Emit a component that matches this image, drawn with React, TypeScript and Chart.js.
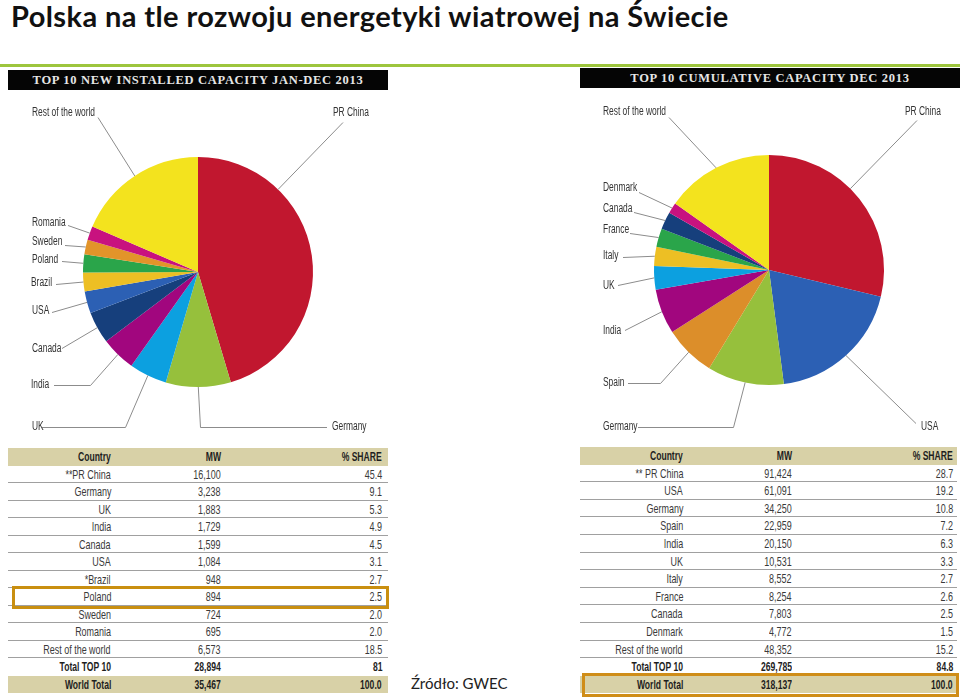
import React, { useEffect, useRef } from 'react';
import { Chart, registerables } from 'chart.js';
Chart.register(...registerables);

// ---------- DATA ----------
const newCountries = ['PR China', 'Germany', 'UK', 'India', 'Canada', 'USA', 'Brazil', 'Poland', 'Sweden', 'Romania', 'Rest of the world'];
const newTableCountries = ['**PR China', 'Germany', 'UK', 'India', 'Canada', 'USA', '*Brazil', 'Poland', 'Sweden', 'Romania', 'Rest of the world'];
const newMW = [16100, 3238, 1883, 1729, 1599, 1084, 948, 894, 724, 695, 6573];
const newShare = ['45.4', '9.1', '5.3', '4.9', '4.5', '3.1', '2.7', '2.5', '2.0', '2.0', '18.5'];
const newTotalRows = ['Total TOP 10', 'World Total'];
const newTotalMW = [28894, 35467];
const newTotalShare = ['81', '100.0'];
const newColors = ['#c1172f', '#96c03c', '#0ca0e0', '#a1067e', '#163f7c', '#2c60b4', '#edbf24', '#2aa54a', '#e2942a', '#c8127f', '#f3e31e'];

const cumCountries = ['PR China', 'USA', 'Germany', 'Spain', 'India', 'UK', 'Italy', 'France', 'Canada', 'Denmark', 'Rest of the world'];
const cumTableCountries = ['** PR China', 'USA', 'Germany', 'Spain', 'India', 'UK', 'Italy', 'France', 'Canada', 'Denmark', 'Rest of the world'];
const cumMW = [91424, 61091, 34250, 22959, 20150, 10531, 8552, 8254, 7803, 4772, 48352];
const cumShare = ['28.7', '19.2', '10.8', '7.2', '6.3', '3.3', '2.7', '2.6', '2.5', '1.5', '15.2'];
const cumTotalRows = ['Total TOP 10', 'World Total'];
const cumTotalMW = [269785, 318137];
const cumTotalShare = ['84.8', '100.0'];
const cumColors = ['#c1172f', '#2c60b4', '#96c03c', '#dc8e2a', '#a1067e', '#0ca0e0', '#edbf24', '#2aa54a', '#163f7c', '#c8127f', '#f3e31e'];

const tableHeader = ['Country', 'MW', '% SHARE'];

// label layout (offsets from pie centre): text pos, line start, optional elbow, position along slice
type LabelLayout = { tx: number; ty: number; sx: number; sy: number; elbow?: [number, number]; frac?: number };
const newLabelLayout: LabelLayout[] = [
  { tx: 135, ty: -159, sx: 145, sy: -150, frac: 0.27 },
  { tx: 134, ty: 155, sx: 129, sy: 155, elbow: [2, 155] },
  { tx: -166, ty: 155, sx: -156, sy: 155, elbow: [-73, 155] },
  { tx: -167, ty: 113, sx: -144, sy: 113, elbow: [-108, 113] },
  { tx: -166, ty: 77, sx: -136, sy: 76 },
  { tx: -166, ty: 39, sx: -146, sy: 40 },
  { tx: -167, ty: 11, sx: -142, sy: 12 },
  { tx: -166, ty: -12, sx: -136, sy: -11 },
  { tx: -166, ty: -30, sx: -133, sy: -27 },
  { tx: -166, ty: -49, sx: -130, sy: -47 },
  { tx: -166, ty: -159, sx: -100, sy: -155 },
];
const cumLabelLayout: LabelLayout[] = [
  { tx: 136, ty: -158, sx: 148, sy: -150, frac: 0.435 },
  { tx: 152, ty: 157, sx: 147, sy: 153 },
  { tx: -166, ty: 157, sx: -131, sy: 157, elbow: [-36, 157] },
  { tx: -166, ty: 113, sx: -141, sy: 113, elbow: [-109, 113] },
  { tx: -166, ty: 61, sx: -144, sy: 60 },
  { tx: -166, ty: 16, sx: -151, sy: 15 },
  { tx: -166, ty: -14, sx: -146, sy: -13 },
  { tx: -166, ty: -40, sx: -139, sy: -37 },
  { tx: -166, ty: -61, sx: -135, sy: -58 },
  { tx: -166, ty: -82, sx: -130, sy: -78 },
  { tx: -166, ty: -158, sx: -100, sy: -153 },
];

const NARROW = '"Liberation Sans Narrow", "Arial Narrow", sans-serif';

function makeLeaderPlugin(layout: LabelLayout[]) {
  return {
    id: 'leaderLabels',
    afterDraw(chart: any) {
      const ctx = chart.ctx as CanvasRenderingContext2D;
      const meta = chart.getDatasetMeta(0);
      const labels = chart.data.labels as string[];
      ctx.save();
      ctx.font = '12px ' + NARROW;
      ctx.fillStyle = '#333';
      ctx.strokeStyle = '#8c8c8c';
      ctx.lineWidth = 1;
      ctx.textBaseline = 'middle';
      layout.forEach((it, i) => {
        const arc = meta.data[i];
        if (!arc) return;
        const p = arc.getProps(['x', 'y', 'startAngle', 'endAngle', 'outerRadius'], true);
        const f = it.frac ?? 0.5;
        const a = p.startAngle + f * (p.endAngle - p.startAngle);
        const ex = p.x + Math.cos(a) * p.outerRadius;
        const ey = p.y + Math.sin(a) * p.outerRadius;
        ctx.beginPath();
        ctx.moveTo(p.x + it.sx, p.y + it.sy + 0.5);
        if (it.elbow) ctx.lineTo(p.x + it.elbow[0] + 0.5, p.y + it.elbow[1] + 0.5);
        ctx.lineTo(ex, ey);
        ctx.stroke();
        ctx.save();
        ctx.translate(p.x + it.tx, p.y + it.ty);
        ctx.scale(0.7, 1);
        ctx.fillText(labels[i], 0, 0);
        ctx.restore();
      });
      ctx.restore();
    },
  };
}

function PieCanvas(props: {
  labels: string[];
  values: number[];
  colors: string[];
  layout: LabelLayout[];
  padding: { left: number; right: number; top: number; bottom: number };
  style: React.CSSProperties;
}) {
  const ref = useRef<HTMLCanvasElement>(null);
  useEffect(() => {
    if (!ref.current) return;
    const chart = new Chart(ref.current, {
      type: 'pie',
      data: {
        labels: props.labels,
        datasets: [{ data: props.values, backgroundColor: props.colors, borderWidth: 0 }],
      },
      options: {
        animation: false,
        responsive: false,
        maintainAspectRatio: false,
        layout: { padding: props.padding },
        plugins: { legend: { display: false }, tooltip: { enabled: false } },
      },
      plugins: [makeLeaderPlugin(props.layout)],
    });
    return () => chart.destroy();
  }, []);
  return <canvas ref={ref} width={480} height={345} style={{ position: 'absolute', ...props.style }} />;
}

function DataTable(props: {
  left: number;
  top: number;
  width: number;
  rowH: number;
  cols: number[];
  padRight: number;
  countries: string[];
  mw: number[];
  share: string[];
  totals: string[];
  totalMW: number[];
  totalShare: string[];
}) {
  const { left, top, width, rowH, cols, padRight } = props;
  const rows: { c: string[]; kind: string }[] = [];
  rows.push({ c: tableHeader, kind: 'head' });
  props.countries.forEach((c, i) => rows.push({ c: [c, props.mw[i].toLocaleString('en-US'), props.share[i]], kind: 'data' }));
  rows.push({ c: [props.totals[0], props.totalMW[0].toLocaleString('en-US'), props.totalShare[0]], kind: 'total' });
  rows.push({ c: [props.totals[1], props.totalMW[1].toLocaleString('en-US'), props.totalShare[1]], kind: 'world' });
  return (
    <div style={{ position: 'absolute', left, top, width }}>
      {rows.map((r, i) => {
        const beige = r.kind === 'head' || r.kind === 'world';
        const bold = r.kind !== 'data';
        return (
          <div
            key={i}
            style={{
              position: 'absolute',
              left: 0,
              top: i * rowH,
              width,
              height: rowH,
              boxSizing: 'border-box',
              paddingRight: padRight,
              background: beige ? '#d8d1a7' : 'transparent',
              borderBottom: r.kind === 'data' ? '1px solid #a0a0a0' : 'none',
              display: 'grid',
              gridTemplateColumns: cols.map((c) => c + 'px').join(' '),
              fontFamily: NARROW,
              fontSize: 13,
              fontWeight: bold ? 700 : 400,
              color: bold ? '#1e1e1e' : '#3a3a3a',
              lineHeight: rowH + 'px',
            }}
          >
            {r.c.map((t, j) => (
              <div key={j} style={{ textAlign: 'right', whiteSpace: 'nowrap' }}>
                <span
                  style={{
                    display: 'inline-block',
                    transform: `scaleX(${bold ? 0.66 : 0.69})`,
                    transformOrigin: 'right center',
                  }}
                >
                  {t}
                </span>
              </div>
            ))}
          </div>
        );
      })}
    </div>
  );
}

export default function App() {
  const barText: React.CSSProperties = {
    position: 'absolute',
    background: '#050505',
    color: '#e6e6e6',
    fontFamily: '"Liberation Serif", "DejaVu Serif", serif',
    fontWeight: 700,
    fontSize: 12.5,
    letterSpacing: 0.7,
    textAlign: 'center',
    height: 20,
    lineHeight: '21px',
    whiteSpace: 'nowrap',
  };
  return (
    <div style={{ position: 'absolute', left: 0, top: 0, width: 960, height: 697, background: '#fff', overflow: 'hidden' }}>
      <div
        style={{
          position: 'absolute',
          left: 11,
          top: -2,
          fontFamily: 'Lato, "Open Sans", sans-serif',
          fontWeight: 700,
          fontSize: 29,
          letterSpacing: 0.4,
          lineHeight: '36px',
          color: '#111',
          whiteSpace: 'nowrap',
        }}
      >
        Polska na tle rozwoju energetyki wiatrowej na Świecie
      </div>
      <div style={{ position: 'absolute', left: 0, top: 64, width: 960, height: 3, background: '#9dc53d' }} />
      <div style={{ ...barText, left: 8, top: 70, width: 380 }}>TOP 10 NEW INSTALLED CAPACITY JAN-DEC 2013</div>
      <div style={{ ...barText, left: 580, top: 68, width: 380 }}>TOP 10 CUMULATIVE CAPACITY DEC 2013</div>

      <PieCanvas
        labels={newCountries}
        values={newMW}
        colors={newColors}
        layout={newLabelLayout}
        padding={{ left: 83, right: 167, top: 62, bottom: 53 }}
        style={{ left: 0, top: 95 }}
      />
      <PieCanvas
        labels={cumCountries}
        values={cumMW}
        colors={cumColors}
        layout={cumLabelLayout}
        padding={{ left: 174, right: 76, top: 60, bottom: 55 }}
        style={{ left: 480, top: 95 }}
      />

      <DataTable
        left={8}
        top={448}
        width={380}
        rowH={17.5}
        cols={[103, 110, 161]}
        padRight={6}
        countries={newTableCountries}
        mw={newMW}
        share={newShare}
        totals={newTotalRows}
        totalMW={newTotalMW}
        totalShare={newTotalShare}
      />
      <DataTable
        left={580}
        top={447}
        width={377}
        rowH={17.6}
        cols={[103, 109, 161]}
        padRight={4}
        countries={cumTableCountries}
        mw={cumMW}
        share={cumShare}
        totals={cumTotalRows}
        totalMW={cumTotalMW}
        totalShare={cumTotalShare}
      />
      <div style={{ position: 'absolute', left: 12, top: 586, width: 377, height: 23, border: '3px solid #c98f10', boxSizing: 'border-box' }} />
      <div style={{ position: 'absolute', left: 582, top: 673, width: 377, height: 24, border: '3px solid #cf8d18', boxSizing: 'border-box' }} />

      <div
        style={{
          position: 'absolute',
          left: 411,
          top: 673,
          fontFamily: 'Lato, "Open Sans", sans-serif',
          fontSize: 15,
          lineHeight: '20px',
          color: '#222',
          whiteSpace: 'nowrap',
        }}
      >
        Źródło: GWEC
      </div>
    </div>
  );
}
